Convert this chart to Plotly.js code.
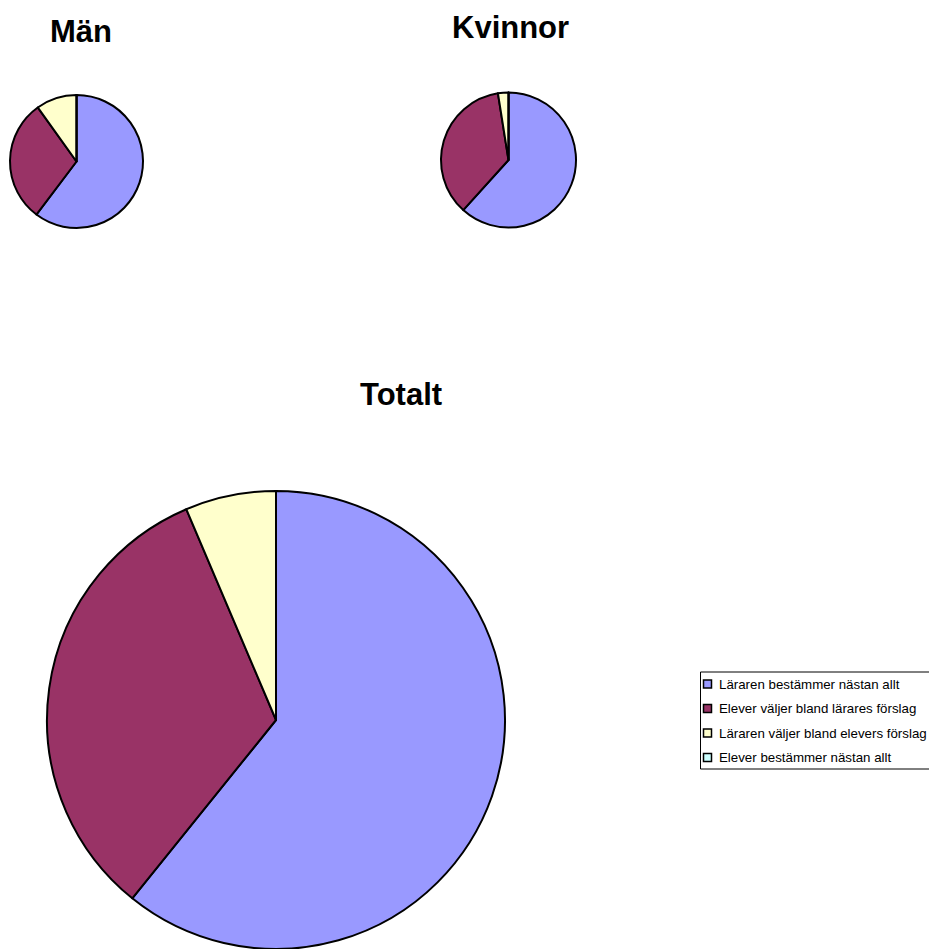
<!DOCTYPE html>
<html>
<head>
<meta charset="utf-8">
<script src="https://cdn.plot.ly/plotly-3.0.1.min.js"></script>
<style>
html, body { margin: 0; padding: 0; background: #ffffff; overflow: hidden; }
#chart { width: 929px; height: 949px; }
</style>
</head>
<body>
<div id="chart"></div>
<script>
// ---- data ----
const categories = [
  'Läraren bestämmer nästan allt',
  'Elever väljer bland lärares förslag',
  'Läraren väljer bland elevers förslag',
  'Elever bestämmer nästan allt'
];
const manValues = [60.3, 29.8, 9.9, 0];
const kvinnorValues = [61.7, 35.8, 2.5, 0];
const totaltValues = [60.8, 32.8, 6.4, 0];
const pieTitles = ['Män', 'Kvinnor', 'Totalt'];

// ---- styling ----
const sliceColors = ['#9999FF', '#993366', '#FFFFCC', '#CCFFFF'];
const W = 929, H = 949;
const FONT = 'Liberation Sans, Arial, sans-serif';
const px = x => x / W;
const py = y => (H - y) / H;

// pie boxes in pixels (left, top, right, bottom)
const pieBoxes = [
  [10, 95, 143, 228],
  [441, 92, 576, 228],
  [47, 491, 505, 949]
];
// title centers in pixels
const titlePos = [[80.5, 31], [510.5, 28], [400.5, 394]];

const seriesValues = [manValues, kvinnorValues, totaltValues];

const traces = seriesValues.map((vals, i) => {
  const b = pieBoxes[i];
  return {
    type: 'pie',
    labels: categories,
    values: vals,
    sort: false,
    direction: 'clockwise',
    rotation: 0,
    textinfo: 'none',
    hoverinfo: 'label+percent',
    showlegend: false,
    marker: { colors: sliceColors, line: { color: '#000000', width: 2 } },
    domain: { x: [px(b[0]), px(b[2])], y: [py(b[3]), py(b[1])] }
  };
});

const annotations = pieTitles.map((t, i) => ({
  text: '<b>' + t + '</b>',
  xref: 'paper', yref: 'paper',
  x: px(titlePos[i][0]), y: py(titlePos[i][1]),
  xanchor: 'center', yanchor: 'middle',
  showarrow: false,
  font: { family: FONT, size: 31, color: '#000000' }
}));

// custom legend
const shapes = [{
  type: 'rect', xref: 'paper', yref: 'paper',
  x0: px(700.5), x1: px(940), y0: py(769), y1: py(672),
  line: { color: '#000000', width: 1 }, fillcolor: '#ffffff', layer: 'below'
}];
const legendTop = 684, legendStep = 24.5;
categories.forEach((c, i) => {
  const cy = legendTop + i * legendStep;
  shapes.push({
    type: 'rect', xref: 'paper', yref: 'paper',
    x0: px(703.5), x1: px(711.5), y0: py(cy + 4), y1: py(cy - 4),
    line: { color: '#000000', width: 1.5 }, fillcolor: sliceColors[i]
  });
  annotations.push({
    text: c, xref: 'paper', yref: 'paper',
    x: px(716.5), y: py(cy),
    xanchor: 'left', yanchor: 'middle', showarrow: false,
    font: { family: FONT, size: 13.3, color: '#000000' }
  });
});

const layout = {
  width: W, height: H,
  margin: { l: 0, r: 0, t: 0, b: 0, pad: 0 },
  paper_bgcolor: '#ffffff',
  plot_bgcolor: '#ffffff',
  showlegend: false,
  annotations: annotations,
  shapes: shapes,
  font: { family: FONT }
};

Plotly.newPlot('chart', traces, layout, { displayModeBar: false, staticPlot: true });
</script>
</body>
</html>
